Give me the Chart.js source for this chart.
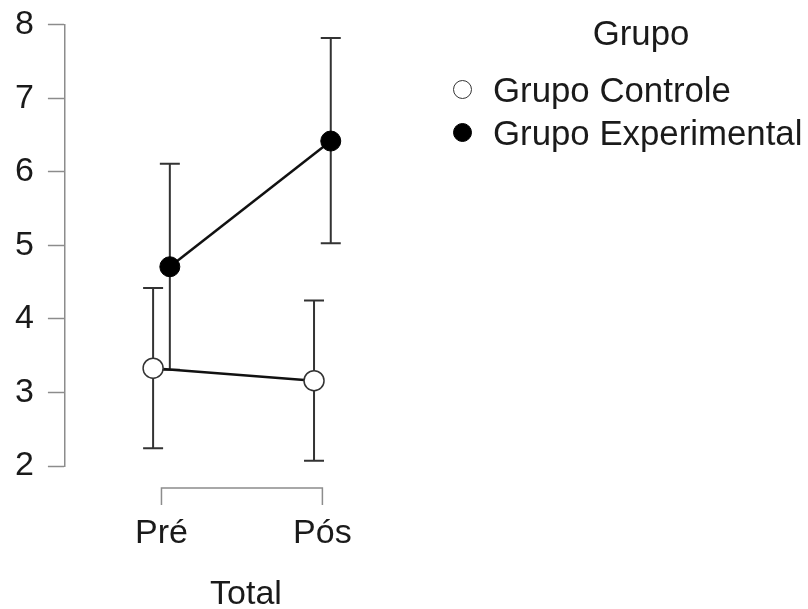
<!DOCTYPE html>
<html>
<head>
<meta charset="utf-8">
<title>Grupo x Total</title>
<script src="https://cdn.jsdelivr.net/npm/chart.js@4/dist/chart.umd.min.js"></script>
<style>
  html, body { margin: 0; padding: 0; background: #ffffff; }
  #wrap { position: relative; width: 808px; height: 609px; overflow: hidden; }
  #descPlot { position: absolute; left: 0; top: 0; }

  /* custom legend, right of the plot */
  .legend { position: absolute; left: 453px; top: 11px; width: 355px;
            font-family: 'Liberation Sans', Arial, sans-serif; font-size: 34.8px;
            color: #1a1a1a; white-space: nowrap; }
  .legend__title { width: 376px; text-align: center; line-height: 43px; margin-bottom: 14px; }
  .legend__item { line-height: 43px; height: 43px; }
  .legend__swatch { display: inline-block; width: 19px; height: 19px; border-radius: 50%;
                    box-sizing: border-box; vertical-align: middle; margin-right: 21px;
                    position: relative; top: -3px; }
</style>
</head>
<body>
<div id="wrap">
  <canvas id="descPlot" width="808" height="609"></canvas>
  <div class="legend">
    <div class="legend__title">Grupo</div>
    <div id="groupLegend" role="list"></div>
  </div>
</div>
<script>
/* ------------------------------------------------------------------
   DATA (means with 95% CI whiskers)
   ------------------------------------------------------------------ */
var CATEGORIES    = ['Pré', 'Pós'];
var GROUP_LABELS  = ['Grupo Controle', 'Grupo Experimental'];
var CONTROL_MEAN  = [3.33, 3.16];
var CONTROL_LOWER = [2.24, 2.07];
var CONTROL_UPPER = [4.42, 4.25];
var EXP_MEAN      = [4.71, 6.42];
var EXP_LOWER     = [3.31, 5.03];
var EXP_UPPER     = [6.11, 7.82];
var Y_TICKS       = [2, 3, 4, 5, 6, 7, 8];

/* ------------------------------------------------------------------
   STYLE
   ------------------------------------------------------------------ */
var FONT_SIZE = 34;
var AXIS_GREY = '#8c8c8c';
var INK       = '#1a1a1a';
var DODGE     = 0.052;   // horizontal offset of each group around a category

Chart.defaults.font.family = "'Liberation Sans', Arial, sans-serif";
Chart.defaults.font.size   = FONT_SIZE;
Chart.defaults.color       = INK;
Chart.defaults.animation   = false;

function toPoints(means, offset) {
  return means.map(function (m, i) { return { x: i + offset, y: m }; });
}

// error bars are drawn under the lines and points
var errorBars = {
  id: 'errorBars',
  beforeDatasetsDraw: function (chart) {
    var ctx = chart.ctx;
    var xs = chart.scales.x, ys = chart.scales.y;
    ctx.save();
    ctx.strokeStyle = '#333333';
    ctx.lineWidth = 2;
    chart.data.datasets.forEach(function (ds) {
      ds.data.forEach(function (pt, i) {
        var px = xs.getPixelForValue(pt.x);
        var lo = ys.getPixelForValue(ds.lower[i]);
        var hi = ys.getPixelForValue(ds.upper[i]);
        ctx.beginPath();
        ctx.moveTo(px, lo); ctx.lineTo(px, hi);
        ctx.moveTo(px - 10, lo); ctx.lineTo(px + 10, lo);
        ctx.moveTo(px - 10, hi); ctx.lineTo(px + 10, hi);
        ctx.stroke();
      });
    });
    ctx.restore();
  }
};

// R-style x axis: a bracket spanning only the first to the last category
var xBracket = {
  id: 'xBracket',
  afterDraw: function (chart) {
    var ctx = chart.ctx;
    var xs = chart.scales.x;
    var x0 = xs.getPixelForValue(0);
    var x1 = xs.getPixelForValue(CATEGORIES.length - 1);
    var y  = chart.chartArea.bottom + 22;
    ctx.save();
    ctx.strokeStyle = AXIS_GREY;
    ctx.lineWidth = 1.5;
    ctx.beginPath();
    ctx.moveTo(x0, y + 17); ctx.lineTo(x0, y);
    ctx.lineTo(x1, y); ctx.lineTo(x1, y + 17);
    ctx.stroke();
    ctx.restore();
  }
};

var chart = new Chart(document.getElementById('descPlot'), {
  type: 'line',
  data: {
    datasets: [
      {
        label: GROUP_LABELS[0],
        data: toPoints(CONTROL_MEAN, -DODGE),
        lower: CONTROL_LOWER,
        upper: CONTROL_UPPER,
        borderColor: '#111111',
        borderWidth: 2.5,
        pointRadius: 10,
        pointBackgroundColor: '#ffffff',
        pointBorderColor: '#333333',
        pointBorderWidth: 1.5,
        pointHoverRadius: 10,
      },
      {
        label: GROUP_LABELS[1],
        data: toPoints(EXP_MEAN, DODGE),
        lower: EXP_LOWER,
        upper: EXP_UPPER,
        borderColor: '#111111',
        borderWidth: 2.5,
        pointRadius: 10,
        pointBackgroundColor: '#000000',
        pointBorderColor: '#000000',
        pointBorderWidth: 1,
        pointHoverRadius: 10,
      },
    ],
  },
  options: {
    responsive: false,
    layout: { padding: { top: 0, left: 1, right: 381, bottom: 0 } },
    scales: {
      x: {
        type: 'linear',
        min: -0.6,
        max: 1.65,
        afterBuildTicks: function (axis) {
          axis.ticks = CATEGORIES.map(function (c, i) { return { value: i }; });
        },
        ticks: {
          padding: 21,
          maxRotation: 0,
          font: { size: FONT_SIZE, lineHeight: 1 },
          callback: function (v) { return CATEGORIES[v]; },
        },
        grid: {
          drawOnChartArea: false,
          drawTicks: true,
          tickLength: 30,
          tickColor: 'rgba(0,0,0,0)',
        },
        border: { display: false },
        title: {
          display: true,
          text: 'Total',
          font: { size: FONT_SIZE, lineHeight: 1 },
          padding: { top: 6, bottom: -3 },
        },
      },
      y: {
        min: 2,
        max: 8,
        afterBuildTicks: function (axis) {
          axis.ticks = Y_TICKS.map(function (v) { return { value: v }; });
        },
        // small lineHeight keeps the top label overflow from pushing the plot down
        ticks: { padding: 14, font: { size: FONT_SIZE, lineHeight: 0.64 } },
        grid: {
          drawOnChartArea: false,
          tickLength: 17,
          tickColor: AXIS_GREY,
          tickWidth: 1.5,
        },
        border: { display: true, color: AXIS_GREY, width: 1.5 },
      },
    },
    plugins: {
      tooltip: { enabled: false },
      legend: { display: false },
    },
  },
  plugins: [errorBars, xBracket],
});

/* ------------------------------------------------------------------
   LEGEND — swatches take the datasets' point colours
   ------------------------------------------------------------------ */
function buildLegend(containerId) {
  var container = document.getElementById(containerId);
  chart.data.datasets.forEach(function (ds) {
    var item = document.createElement('div');
    item.className = 'legend__item';
    item.setAttribute('role', 'listitem');

    var swatch = document.createElement('span');
    swatch.className = 'legend__swatch';
    swatch.style.background = ds.pointBackgroundColor;
    swatch.style.border = '1.5px solid ' + ds.pointBorderColor;
    swatch.setAttribute('aria-hidden', 'true');

    var text = document.createElement('span');
    text.textContent = ds.label;

    item.appendChild(swatch);
    item.appendChild(text);
    container.appendChild(item);
  });
}
buildLegend('groupLegend');
</script>
</body>
</html>
